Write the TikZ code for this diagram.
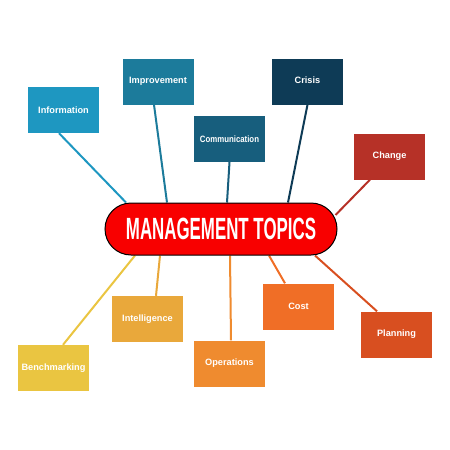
\documentclass[tikz,border=0pt]{standalone}
\usepackage{fontspec}
\setmainfont{Liberation Sans}
\usetikzlibrary{backgrounds}
\definecolor{infoblue}{HTML}{1E97C1}
\definecolor{imprblue}{HTML}{1C7B9B}
\definecolor{commblue}{HTML}{175E7D}
\definecolor{crisisblue}{HTML}{0E3B56}
\definecolor{changered}{HTML}{B63127}
\definecolor{intelorange}{HTML}{E9A83B}
\definecolor{benchyellow}{HTML}{EAC541}
\definecolor{operorange}{HTML}{EF8B2F}
\definecolor{costorange}{HTML}{F06E26}
\definecolor{planorange}{HTML}{D84F20}
\definecolor{titlered}{HTML}{F80000}
\begin{document}
\begin{tikzpicture}[x=1pt, y=-1pt, every node/.style={inner sep=0pt},
                      box/.style={minimum width=71pt, minimum height=46pt, text=white,
                      font=\bfseries\fontsize{9.2}{11}\selectfont},
                      link/.style={line width=2pt}]
                  \useasboundingbox (0,0) rectangle (450,450);
                  \node[box,fill=infoblue] (info) at (63.5,110) {Information};
                  \node[box,fill=imprblue] (impr) at (158,81.5) {Improvement};
                  \node[box,fill=commblue] (comm) at (229.5,139) {\scalebox{0.85}[1]{Communication}};
                  \node[box,fill=crisisblue] (crisis) at (307.5,81.5) {\raisebox{2pt}{Crisis}};
                  \node[box,fill=changered] (change) at (389.5,156.5) {Change};
                  \node[box,fill=intelorange] (intel) at (147.5,319) {Intelligence};
                  \node[box,fill=benchyellow] (bench) at (53.5,368) {\raisebox{-4pt}{Benchmarking}};
                  \node[box,fill=operorange] (oper) at (229.5,363.5) {\raisebox{-1pt}{Operations}};
                  \node[box,fill=costorange] (cost) at (298.5,306.5) {Cost};
                  \node[box,fill=planorange] (plan) at (396.5,334.5) {Planning};
                  \node[draw=black, line width=1pt, fill=titlered, rounded corners=26pt,
                        minimum width=232pt, minimum height=52pt, text=white,
                        font=\bfseries\fontsize{30.7}{32}\selectfont] (topic) at (221,229)
                        {\scalebox{0.55}[1]{MANAGEMENT TOPICS}};
                  \begin{scope}[on background layer]
                  \draw[link,infoblue] ([xshift=-4.5pt]info.south) -- ([xshift=-95pt]topic.north);
                  \draw[link,imprblue] ([xshift=-4pt]impr.south) -- ([xshift=-54pt]topic.north);
                  \draw[link,commblue] (comm.south) -- ([xshift=6pt]topic.north);
                  \draw[link,crisisblue] (crisis.south) -- ([xshift=67pt]topic.north);
                  \draw[link,changered] ([xshift=-19.5pt]change.south) -- ([yshift=14pt,xshift=-2pt]topic.east);
                  \draw[link,benchyellow] ([xshift=9.5pt]bench.north) -- ([xshift=-86pt]topic.south);
                  \draw[link,intelorange] ([xshift=8.5pt]intel.north) -- ([xshift=-61pt]topic.south);
                  \draw[link,operorange] ([xshift=1.5pt]oper.north) -- ([xshift=9pt]topic.south);
                  \draw[link,costorange] ([xshift=-13.5pt]cost.north) -- ([xshift=48pt]topic.south);
                  \draw[link,planorange] ([xshift=-19.5pt]plan.north) -- ([xshift=94pt]topic.south);
                  \end{scope}
              \end{tikzpicture}
\end{document}
